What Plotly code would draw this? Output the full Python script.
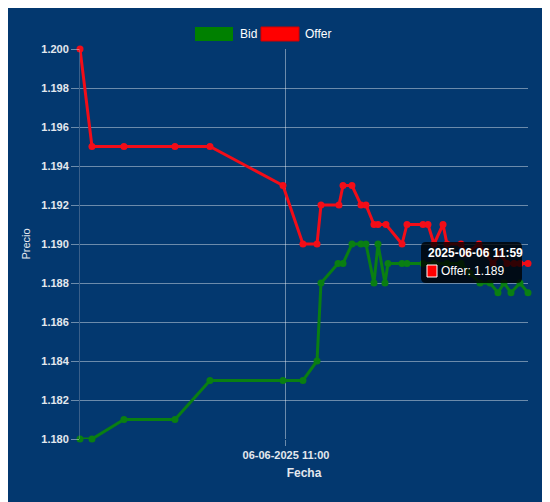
import plotly.graph_objects as go

# ---- data ----
bid_times = [
    "2025-06-06 10:09:47", "2025-06-06 10:12:42", "2025-06-06 10:20:30", "2025-06-06 10:32:56",
    "2025-06-06 10:41:28", "2025-06-06 10:59:16", "2025-06-06 11:04:08", "2025-06-06 11:07:34",
    "2025-06-06 11:08:32", "2025-06-06 11:12:41", "2025-06-06 11:13:54", "2025-06-06 11:16:05",
    "2025-06-06 11:18:17", "2025-06-06 11:19:30", "2025-06-06 11:21:27", "2025-06-06 11:22:26",
    "2025-06-06 11:24:08", "2025-06-06 11:24:52", "2025-06-06 11:28:17", "2025-06-06 11:29:30",
    "2025-06-06 11:33:24", "2025-06-06 11:36:05", "2025-06-06 11:39:15", "2025-06-06 11:42:40",
    "2025-06-06 11:44:52", "2025-06-06 11:47:18", "2025-06-06 11:49:44", "2025-06-06 11:51:41",
    "2025-06-06 11:53:09", "2025-06-06 11:54:51", "2025-06-06 11:57:03", "2025-06-06 11:59:00",
]
bid_values = [
    1.180, 1.180, 1.181, 1.181,
    1.183, 1.183, 1.183, 1.184,
    1.188, 1.189, 1.189, 1.190,
    1.190, 1.190, 1.188, 1.190,
    1.188, 1.189, 1.189, 1.189,
    1.189, 1.189, 1.189, 1.189,
    1.1885, 1.188, 1.188, 1.1875,
    1.188, 1.1875, 1.188, 1.1875,
]

offer_times = [
    "2025-06-06 10:09:47", "2025-06-06 10:12:42", "2025-06-06 10:20:30", "2025-06-06 10:32:56",
    "2025-06-06 10:41:28", "2025-06-06 10:59:16", "2025-06-06 11:04:08", "2025-06-06 11:07:34",
    "2025-06-06 11:08:32", "2025-06-06 11:12:55", "2025-06-06 11:13:54", "2025-06-06 11:16:05",
    "2025-06-06 11:18:17", "2025-06-06 11:19:30", "2025-06-06 11:21:27", "2025-06-06 11:22:26",
    "2025-06-06 11:24:23", "2025-06-06 11:28:17", "2025-06-06 11:29:30", "2025-06-06 11:33:24",
    "2025-06-06 11:34:37", "2025-06-06 11:36:05", "2025-06-06 11:38:17", "2025-06-06 11:39:15",
    "2025-06-06 11:42:40", "2025-06-06 11:43:53", "2025-06-06 11:47:03", "2025-06-06 11:48:46",
    "2025-06-06 11:50:28", "2025-06-06 11:52:10", "2025-06-06 11:53:53", "2025-06-06 11:55:35",
    "2025-06-06 11:57:03", "2025-06-06 11:59:00",
]
offer_values = [
    1.200, 1.195, 1.195, 1.195,
    1.195, 1.193, 1.190, 1.190,
    1.192, 1.192, 1.193, 1.193,
    1.192, 1.192, 1.191, 1.191,
    1.191, 1.190, 1.191, 1.191,
    1.191, 1.190, 1.191, 1.190,
    1.190, 1.1895, 1.190, 1.1895,
    1.189, 1.1895, 1.189, 1.189,
    1.189, 1.189,
]

y_ticks = [1.180, 1.182, 1.184, 1.186, 1.188, 1.190, 1.192, 1.194, 1.196, 1.198, 1.200]
x_tick = "2025-06-06 11:00:00"
x_tick_label = "06-06-2025 11:00"

# ---- styling ----
BG = "#03386f"
GRID = "rgba(255,255,255,0.42)"
TXT = "#e4e8ee"
GREEN = "#0a7f12"
RED = "#f20d18"
FONT = "Liberation Sans, Arial, sans-serif"

OFF = 8  # page body margin
W, H = 550 - OFF, 502 - OFF
L, T = 80 - OFF, 49 - OFF
R = W - (528 - OFF)
B = H - (439 - OFF)
PW, PH = W - L - R, H - T - B


def px(x):
    return (x - OFF - L) / PW


def py(y):
    return (H - B - (y - OFF)) / PH


fig = go.Figure()
fig.add_trace(go.Scatter(
    x=bid_times, y=bid_values, name="Bid", mode="lines+markers",
    line=dict(color=GREEN, width=3), marker=dict(color=GREEN, size=7),
    cliponaxis=False, showlegend=False,
))
fig.add_trace(go.Scatter(
    x=offer_times, y=offer_values, name="Offer", mode="lines+markers",
    line=dict(color=RED, width=3), marker=dict(color=RED, size=7),
    cliponaxis=False, showlegend=False,
))

shapes = []
annotations = []

# legend (drawn manually, wide colour boxes)
shapes.append(dict(type="rect", xref="paper", yref="paper",
                   x0=px(195), x1=px(233), y0=py(41), y1=py(27),
                   fillcolor="#008000", line=dict(width=0)))
shapes.append(dict(type="rect", xref="paper", yref="paper",
                   x0=px(261), x1=px(299), y0=py(41), y1=py(27),
                   fillcolor="#ff0000", line=dict(width=1, color="#d00000")))
annotations.append(dict(text="Bid", xref="paper", yref="paper", x=px(238), y=py(34),
                        xanchor="left", yanchor="middle", showarrow=False,
                        font=dict(family=FONT, size=12, color="white")))
annotations.append(dict(text="Offer", xref="paper", yref="paper", x=px(303), y=py(34),
                        xanchor="left", yanchor="middle", showarrow=False,
                        font=dict(family=FONT, size=12, color="white")))

# tooltip for the last Offer point
tx0, tx1, ty0, ty1, r = 421, 522, 242, 283, 5
path = (
    f"M {px(tx0 + r)},{py(ty0)} L {px(tx1 - r)},{py(ty0)} "
    f"Q {px(tx1)},{py(ty0)} {px(tx1)},{py(ty0 + r)} "
    f"L {px(tx1)},{py(ty1 - r)} Q {px(tx1)},{py(ty1)} {px(tx1 - r)},{py(ty1)} "
    f"L {px(tx0 + r)},{py(ty1)} Q {px(tx0)},{py(ty1)} {px(tx0)},{py(ty1 - r)} "
    f"L {px(tx0)},{py(ty0 + r)} Q {px(tx0)},{py(ty0)} {px(tx0 + r)},{py(ty0)} Z"
)
shapes.append(dict(type="path", xref="paper", yref="paper", path=path,
                   fillcolor="rgba(0,0,0,0.8)", line=dict(width=0), layer="above"))
shapes.append(dict(type="rect", xref="paper", yref="paper",
                   x0=px(427), x1=px(437), y0=py(277), y1=py(265),
                   fillcolor="#ff0000", line=dict(width=1, color="white"), layer="above"))
last_time = offer_times[-1][:16]
annotations.append(dict(text=f"<b>{last_time}</b>", xref="paper", yref="paper",
                        x=px(426), y=py(253), xanchor="left", yanchor="middle",
                        showarrow=False, font=dict(family=FONT, size=12, color="white")))
annotations.append(dict(text=f"Offer: {offer_values[-1]:.3f}", xref="paper", yref="paper",
                        x=px(439), y=py(271), xanchor="left", yanchor="middle",
                        showarrow=False, font=dict(family=FONT, size=12, color="white")))

fig.update_layout(
    width=W, height=H,
    margin=dict(l=L, r=R, t=T, b=B),
    paper_bgcolor=BG, plot_bgcolor=BG,
    showlegend=False,
    font=dict(family=FONT, color=TXT),
    shapes=shapes, annotations=annotations,
    xaxis=dict(
        type="date",
        range=[offer_times[0], offer_times[-1]],
        tickvals=[x_tick], ticktext=[x_tick_label],
        tickfont=dict(family=FONT, size=11, color=TXT, weight="bold"),
        showgrid=True, gridcolor=GRID, gridwidth=1,
        ticks="outside", ticklen=6, tickcolor=GRID,
        zeroline=False, showline=False,
        title=dict(text="Fecha", font=dict(family=FONT, size=12, color=TXT, weight="bold"),
                   standoff=8),
    ),
    yaxis=dict(
        range=[1.180, 1.200],
        tickvals=y_ticks, ticktext=[f"{v:.3f}" for v in y_ticks],
        tickfont=dict(family=FONT, size=11, color=TXT, weight="bold"),
        showgrid=True, gridcolor=GRID, gridwidth=1,
        ticks="outside", ticklen=8, tickcolor=GRID,
        zeroline=False, showline=True, linecolor="rgba(160,170,190,0.35)", linewidth=1,
        title=dict(text="Precio", font=dict(family=FONT, size=11, color=TXT),
                   standoff=8),
    ),
)

fig.write_html("out.html")
